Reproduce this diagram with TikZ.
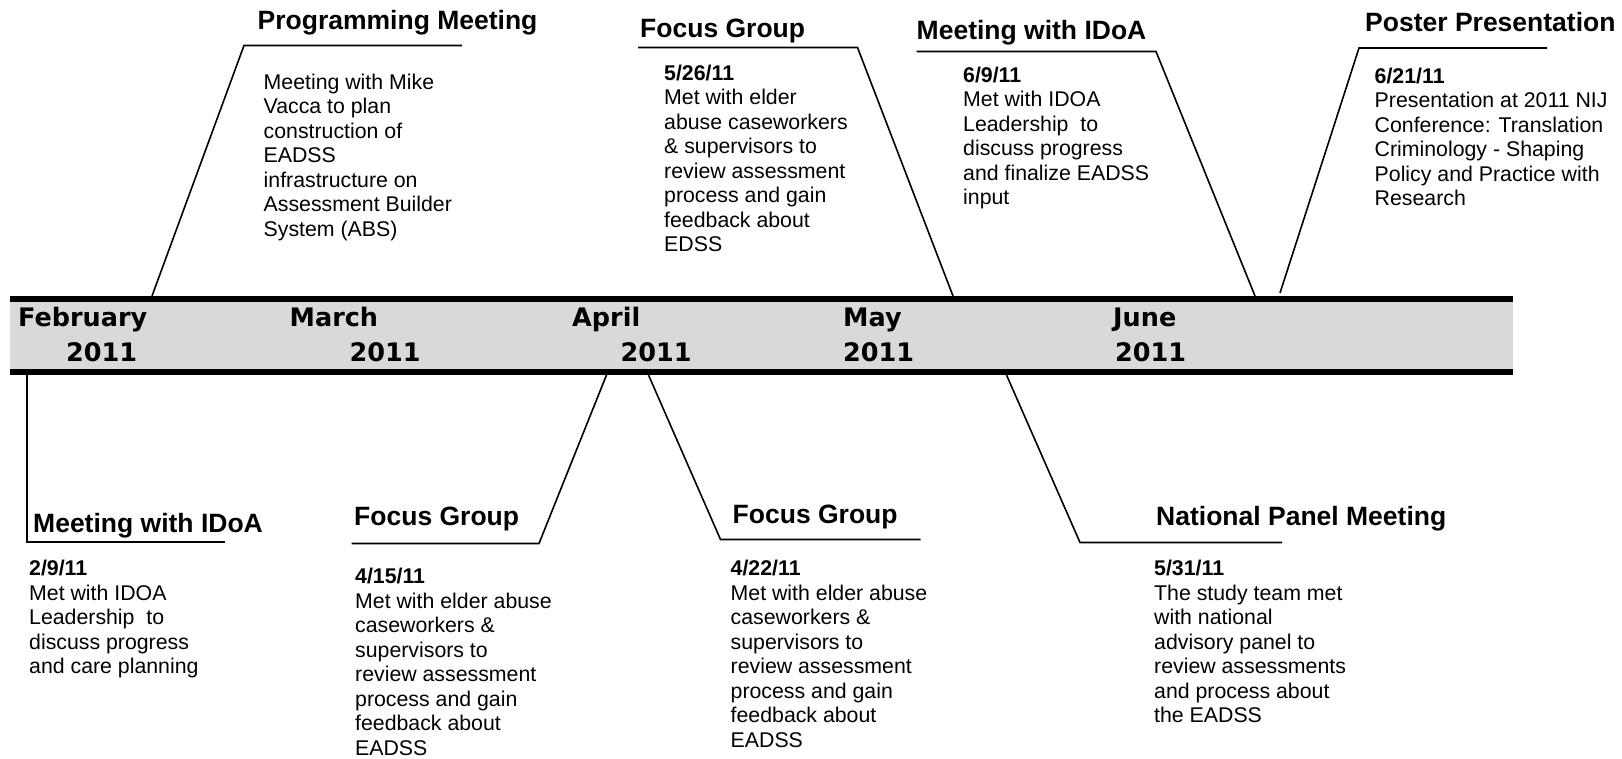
\documentclass[tikz,border=0pt]{standalone}
\usepackage{fontspec}
\setmainfont{Liberation Sans}
\newfontfamily\monthfamily{DejaVu Sans}
\newcommand\bodyfont{\fontsize{21.3}{24.5}\selectfont}
\newcommand\headfont{\fontsize{26.5}{30}\selectfont\bfseries}
\newcommand\monthfont{\monthfamily\fontsize{25.5}{30}\selectfont\bfseries}
\definecolor{bandgray}{HTML}{D9D9D9}

\begin{document}
\begin{tikzpicture}[x=1pt,y=-1pt,
  head/.style={font=\headfont, anchor=base west, inner sep=0pt},
  body/.style={font=\bodyfont, align=left, anchor=north west, inner sep=0pt},
  monthlbl/.style={font=\monthfont, anchor=base west, inner sep=0pt},
  leader/.style={line width=1.6pt, line join=miter},
  rule/.style={line width=6pt}]
\useasboundingbox (0,0) rectangle (1622,759);

% timeline band
\fill[bandgray] (10,299) rectangle (1513,372);
\draw[rule] (10,299) -- (1513,299);
\draw[rule] (10,372) -- (1513,372);

% month labels
\node[monthlbl] (feb)  at (18,326.5)   {February};
\node[monthlbl] (feby) at (66,361)     {2011};
\node[monthlbl] (mar)  at (289.5,326.5) {March};
\node[monthlbl] (mary) at (349.5,361)  {2011};
\node[monthlbl] (apr)  at (572,326.5)  {April};
\node[monthlbl] (apry) at (620.5,361)  {2011};
\node[monthlbl] (may)  at (843,326.5)  {May};
\node[monthlbl] (mayy) at (843,361)    {2011};
\node[monthlbl] (jun)  at (1113,326.5) {June};
\node[monthlbl] (juny) at (1115,361)   {2011};

% ---- events above the band ----
\node[head] (pmT) at (257.5,30) {Programming Meeting};
\node[body] (pmB) at (263.5,73.5) {Meeting with Mike\\Vacca to plan\\construction of\\EADSS\\infrastructure on\\Assessment Builder\\System (ABS)};
\coordinate (pmFoot) at (152,296);
\coordinate (pmKnee) at (244,45.5);
\coordinate (pmEnd)  at (462,45.5);
\draw[leader] (pmFoot) -- (pmKnee) -- (pmEnd);

\node[head] (fgaT) at (640,37.5) {Focus Group};
\node[body] (fgaB) at (664,64.5) {\textbf{5/26/11}\\Met with elder\\abuse caseworkers\\\& supervisors to\\review assessment\\process and gain\\feedback about\\EDSS};
\coordinate (fgaStart) at (638,47.5);
\coordinate (fgaKnee)  at (857.5,47.5);
\coordinate (fgaFoot)  at (953,296);
\draw[leader] (fgaStart) -- (fgaKnee) -- (fgaFoot);

\node[head] (idaT) at (916.5,39.5) {Meeting with IDoA};
\node[body] (idaB) at (963,66.5) {\textbf{6/9/11}\\Met with IDOA\\Leadership~ to\\discuss progress\\and finalize EADSS\\input};
\coordinate (idaStart) at (916.5,51.5);
\coordinate (idaKnee)  at (1156,51.5);
\coordinate (idaFoot)  at (1255,296);
\draw[leader] (idaStart) -- (idaKnee) -- (idaFoot);

\node[head] (ppT) at (1365,32) {Poster Presentation};
\node[body] (ppB) at (1374.5,67.5) {\textbf{6/21/11}\\Presentation at 2011 NIJ\\Conference: Translation\\Criminology - Shaping\\Policy and Practice with\\Research};
\coordinate (ppFoot) at (1280,293);
\coordinate (ppKnee) at (1359,48);
\coordinate (ppEnd)  at (1547,48);
\draw[leader] (ppFoot) -- (ppKnee) -- (ppEnd);

% ---- events below the band ----
\node[head] (idbT) at (33,532) {Meeting with IDoA};
\node[body] (idbB) at (29,560) {\textbf{2/9/11}\\Met with IDOA\\Leadership~ to\\discuss progress\\and care planning};
\coordinate (idbFoot) at (27,375);
\coordinate (idbKnee) at (27,542);
\coordinate (idbEnd)  at (225,542);
\draw[leader] (idbFoot) -- (idbKnee) -- (idbEnd);

\node[head] (fgbT) at (354,525) {Focus Group};
\node[body] (fgbB) at (355,568) {\textbf{4/15/11}\\Met with elder abuse\\caseworkers \&\\supervisors to\\review assessment\\process and gain\\feedback about\\EADSS};
\coordinate (fgbFoot) at (606.5,375);
\coordinate (fgbKnee) at (539,543.5);
\coordinate (fgbEnd)  at (351.5,543.5);
\draw[leader] (fgbFoot) -- (fgbKnee) -- (fgbEnd);

\node[head] (fgcT) at (732.5,523) {Focus Group};
\node[body] (fgcB) at (730.5,560) {\textbf{4/22/11}\\Met with elder abuse\\caseworkers \&\\supervisors to\\review assessment\\process and gain\\feedback about\\EADSS};
\coordinate (fgcFoot) at (648.5,375);
\coordinate (fgcKnee) at (720.5,539.5);
\coordinate (fgcEnd)  at (920.5,539.5);
\draw[leader] (fgcFoot) -- (fgcKnee) -- (fgcEnd);

\node[head] (npT) at (1156,525) {National Panel Meeting};
\node[body] (npB) at (1154,560) {\textbf{5/31/11}\\The study team met\\with national\\advisory panel to\\review assessments\\and process about\\the EADSS};
\coordinate (npFoot) at (1006.5,375);
\coordinate (npKnee) at (1080,542.5);
\coordinate (npEnd)  at (1282,542.5);
\draw[leader] (npFoot) -- (npKnee) -- (npEnd);
\end{tikzpicture}
\end{document}
